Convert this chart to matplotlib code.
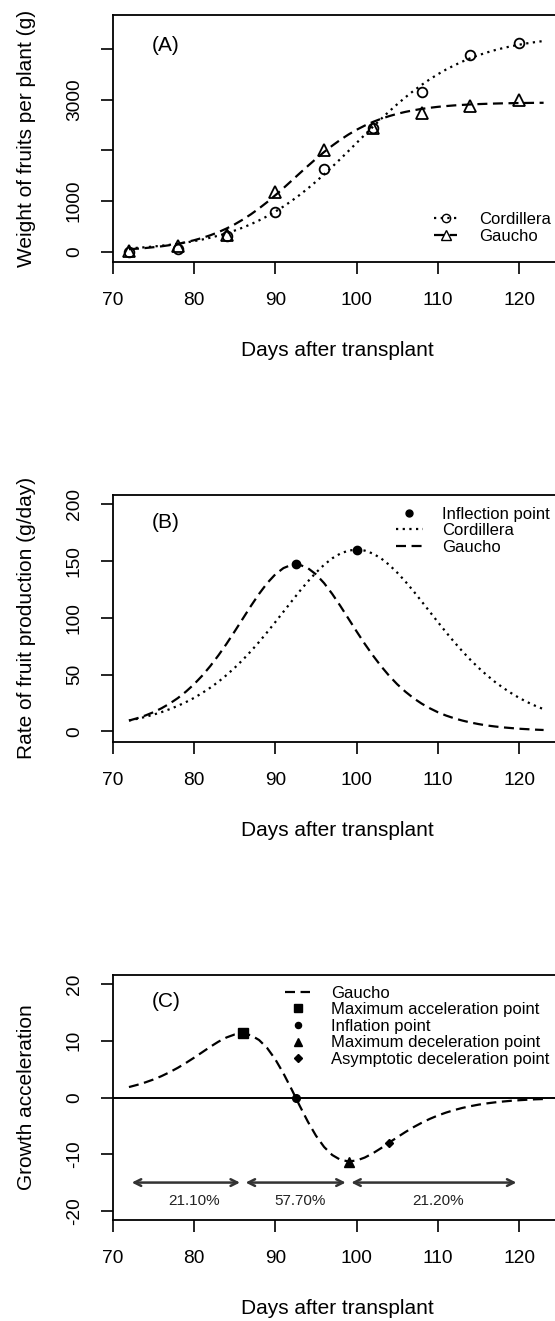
import matplotlib
matplotlib.use("Agg")
import matplotlib.pyplot as plt
from matplotlib.lines import Line2D

plt.rcParams['font.family'] = ['Liberation Sans', 'DejaVu Sans']

# observed harvests (panel A)
obs_days = [72, 78, 84, 90, 96, 102, 108, 114, 120]
cordillera_obs = [0, 47, 310, 791, 1628, 2451, 3150, 3887, 4118]
gaucho_obs = [20, 113, 324, 1186, 2010, 2439, 2735, 2880, 2998]

# fitted curves, one value per day (72..123)
curve_days = list(range(72, 124))
cordillera_fit = [66, 76, 88, 102, 118, 136, 157, 181, 209, 240, 276, 317, 364,
                  417, 476, 543, 618, 700, 792, 893, 1003, 1122, 1249, 1385, 1528,
                  1678, 1832, 1990, 2150, 2310, 2468, 2622, 2772, 2915, 3051, 3179,
                  3297, 3407, 3508, 3600, 3682, 3757, 3824, 3883, 3936, 3983, 4024,
                  4060, 4091, 4119, 4143, 4164]
gaucho_fit = [49, 59, 72, 88, 106, 129, 155, 187, 226, 271, 324, 386, 458, 540,
              634, 739, 855, 980, 1115, 1256, 1402, 1549, 1694, 1835, 1970, 2095,
              2211, 2316, 2410, 2492, 2564, 2626, 2679, 2725, 2763, 2795, 2822,
              2844, 2863, 2878, 2891, 2901, 2910, 2917, 2923, 2928, 2932, 2935,
              2938, 2940, 2942, 2943]

# rate of fruit production (panel B)
cordillera_rate = [9.6, 11.1, 12.8, 14.8, 17.0, 19.6, 22.5, 25.8, 29.5, 33.8, 38.5,
                   43.7, 49.6, 56.0, 63.0, 70.6, 78.7, 87.3, 96.2, 105.3, 114.4,
                   123.4, 131.9, 139.7, 146.6, 152.3, 156.5, 159.1, 160.0, 159.1,
                   156.5, 152.3, 146.6, 139.7, 131.9, 123.4, 114.4, 105.3, 96.2,
                   87.3, 78.7, 70.6, 63.0, 56.0, 49.6, 43.7, 38.5, 33.8, 29.5, 25.8,
                   22.5, 19.6]
gaucho_rate = [9.6, 11.6, 14.0, 16.9, 20.4, 24.5, 29.3, 35.0, 41.5, 49.0, 57.5,
               66.9, 77.1, 88.0, 99.2, 110.4, 121.0, 130.5, 138.2, 143.7, 146.6,
               146.6, 143.7, 138.2, 130.5, 121.0, 110.4, 99.2, 88.0, 77.1, 66.9,
               57.5, 49.0, 41.5, 35.0, 29.3, 24.5, 20.4, 16.9, 14.0, 11.6, 9.6,
               7.9, 6.5, 5.3, 4.4, 3.6, 3.0, 2.4, 2.0, 1.6, 1.3]
infl_days = [100, 92.5]
infl_rates = [160, 147]

# growth acceleration of Gaucho (panel C)
gaucho_accel = [1.84, 2.22, 2.66, 3.17, 3.77, 4.46, 5.23, 6.09, 7.01, 7.97, 8.94,
                9.84, 10.59, 11.11, 11.27, 10.98, 10.14, 8.72, 6.73, 4.25, 1.46,
                -1.46, -4.25, -6.73, -8.72, -10.14, -10.98, -11.27, -11.11, -10.59,
                -9.84, -8.94, -7.97, -7.01, -6.09, -5.23, -4.46, -3.77, -3.17,
                -2.66, -2.22, -1.84, -1.53, -1.26, -1.04, -0.86, -0.71, -0.58,
                -0.48, -0.39, -0.32, -0.27]
key_names = ["Maximum acceleration point", "Inflation point",
             "Maximum deceleration point", "Asymptotic deceleration point"]
key_days = [86, 92.5, 99.1, 104]
key_vals = [11.3, 0, -11.3, -8.0]
key_markers = ['s', 'o', '^', 'D']
key_sizes = [6.5, 5.5, 7.5, 4.5]
phase_bounds = [72, 86, 99, 120]
phase_labels = ["21.10%", "57.70%", "21.20%"]
phase_label_x = [80, 93, 110]

W, H = 555, 1321
fig = plt.figure(figsize=(W / 100, H / 100), dpi=100)


def px_axes(left, top, right, bottom):
    return fig.add_axes([left / W, 1 - bottom / H, (right - left) / W, (bottom - top) / H])


def style(ax, ylim, yticks, ylabels, ylabel, height):
    ax.set_xlim(70, 126)
    ax.set_ylim(*ylim)
    ax.set_xticks([70, 80, 90, 100, 110, 120])
    ax.set_yticks(yticks)
    ax.set_yticklabels(ylabels, rotation=90, va='center')
    ax.tick_params(direction='out', length=8.5, width=1.2, pad=13, labelsize=13.8)
    for s in ax.spines.values():
        s.set_linewidth(1.3)
    ax.set_xlabel('Days after transplant', fontsize=15)
    ax.xaxis.set_label_coords(0.493, -89 / height)
    ax.xaxis.label.set_va('center')
    ax.set_ylabel(ylabel, fontsize=15)
    ax.yaxis.set_label_coords((26.5 - 112.7) / 455.3, 0.5)
    ax.yaxis.label.set_va('center')


dots = (0, (1, 2))
dashes = (0, (4.5, 2.5))

# ---- (A)
axA = px_axes(112.7, 15, 568, 261.7)
axA.plot(curve_days, cordillera_fit, color='k', ls=dots, lw=1.6)
axA.plot(curve_days, gaucho_fit, color='k', ls=dashes, lw=1.6)
axA.plot(obs_days, cordillera_obs, 'o', mfc='none', mec='k', ms=7, mew=1.3)
axA.plot(obs_days, gaucho_obs, '^', mfc='none', mec='k', ms=8, mew=1.3)
style(axA, (-198, 4678), [0, 1000, 2000, 3000, 4000], ['0', '1000', '', '3000', ''],
      'Weight of fruits per plant (g)', 246.7)
axA.text(0.117, 0.878, '(A)', transform=axA.transAxes, fontsize=15, ha='center', va='center')
hA = [Line2D([], [], color='k', ls=dots, lw=1.6, marker='o', mfc='none', ms=6),
      Line2D([], [], color='k', ls=dashes, lw=1.6, marker='^', mfc='none', ms=7)]
axA.legend(hA, ['Cordillera', 'Gaucho'], loc='upper left', frameon=False, fontsize=12,
           bbox_to_anchor=(434 / W, 1 - 212 / H), bbox_transform=fig.transFigure,
           borderpad=0, borderaxespad=0, handlelength=1.4, handletextpad=1.3,
           labelspacing=0.1)

# ---- (B)
axB = px_axes(112.7, 495, 568, 741.7)
axB.plot(curve_days, cordillera_rate, color='k', ls=dots, lw=1.6)
axB.plot(curve_days, gaucho_rate, color='k', ls=dashes, lw=1.6)
axB.plot(infl_days, infl_rates, 'o', color='k', ms=6)
style(axB, (-9, 208), [0, 50, 100, 150, 200], ['0', '50', '100', '150', '200'],
      'Rate of fruit production (g/day)', 246.7)
axB.text(0.117, 0.888, '(B)', transform=axB.transAxes, fontsize=15, ha='center', va='center')
hB = [Line2D([], [], color='k', ls='none', marker='o', ms=5),
      Line2D([], [], color='k', ls=dots, lw=1.6),
      Line2D([], [], color='k', ls=dashes, lw=1.6)]
axB.legend(hB, ['Inflection point', 'Cordillera', 'Gaucho'], loc='upper left',
           frameon=False, fontsize=12, bbox_to_anchor=(396 / W, 1 - 506.5 / H),
           bbox_transform=fig.transFigure, borderpad=0, borderaxespad=0,
           handlelength=1.6, handletextpad=1.17, labelspacing=0.1)

# ---- (C)
axC = px_axes(112.7, 975, 568, 1220)
axC.axhline(0, color='k', lw=1.4)
axC.plot(curve_days, gaucho_accel, color='k', ls=dashes, lw=1.6)
for d, v, m, s in zip(key_days, key_vals, key_markers, key_sizes):
    axC.plot(d, v, marker=m, color='k', ms=s, ls='none')
for x0, x1 in zip(phase_bounds[:-1], phase_bounds[1:]):
    axC.annotate('', xy=(x1, -15), xytext=(x0, -15),
                 arrowprops=dict(arrowstyle='<->', lw=1.8, color='#333',
                                 shrinkA=2, shrinkB=2, mutation_scale=12))
for x, lab in zip(phase_label_x, phase_labels):
    axC.text(x, -18.2, lab, fontsize=11, ha='center', va='center', color='#222')
style(axC, (-21.6, 21.6), [-20, -10, 0, 10, 20], ['-20', '-10', '0', '10', '20'],
      'Growth acceleration', 245)
axC.text(0.117, 0.891, '(C)', transform=axC.transAxes, fontsize=15, ha='center', va='center')
hC = [Line2D([], [], color='k', ls=dashes, lw=1.6)]
hC += [Line2D([], [], color='k', ls='none', marker=m, ms=s * 0.8)
       for m, s in zip(key_markers, key_sizes)]
axC.legend(hC, ['Gaucho'] + key_names, loc='upper left', frameon=False, fontsize=12,
           bbox_to_anchor=(285 / W, 1 - 985.5 / H), bbox_transform=fig.transFigure,
           borderpad=0, borderaxespad=0, handlelength=1.5, handletextpad=1.26,
           labelspacing=0.1)

fig.savefig('out.png', dpi=100)
